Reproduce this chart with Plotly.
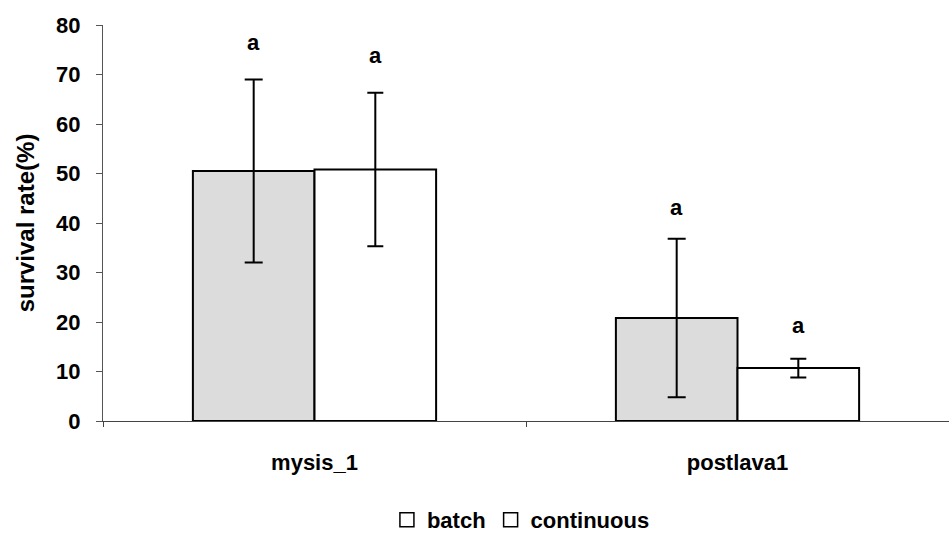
import plotly.graph_objects as go

categories = ["mysis_1", "postlava1"]
series_names = ["batch", "continuous"]
batch_vals = [50.5, 20.8]
batch_err = [18.5, 16.0]
cont_vals = [50.8, 10.7]
cont_err = [15.5, 1.9]
sig_letters_batch = ["a", "a"]
sig_letters_cont = ["a", "a"]
sig_y_batch = [76.4, 43.1]
sig_y_cont = [73.8, 19.2]
y_ticks = [0, 10, 20, 30, 40, 50, 60, 70, 80]

FONT = "Liberation Sans, Arial, sans-serif"
BARGAP = 0.425
half = (1 - BARGAP) / 4  # offset of each bar centre from category centre

fig = go.Figure()
fig.add_trace(go.Bar(
    x=categories, y=batch_vals, name=series_names[0], showlegend=False,
    marker=dict(color="#dcdcdc", line=dict(color="black", width=2)),
    error_y=dict(type="data", array=batch_err, visible=True, color="black", thickness=2, width=9),
))
fig.add_trace(go.Bar(
    x=categories, y=cont_vals, name=series_names[1], showlegend=False,
    marker=dict(color="white", line=dict(color="black", width=2)),
    error_y=dict(type="data", array=cont_err, visible=True, color="black", thickness=2, width=8),
))
# legend-only entries (white boxes as in the reference legend)
for nm in series_names:
    fig.add_trace(go.Scatter(x=[None], y=[None], name=nm, mode="markers",
                             marker=dict(symbol="square", size=14, color="white",
                                         line=dict(color="black", width=1.5))))

for i, c in enumerate(categories):
    fig.add_annotation(x=i - half, y=sig_y_batch[i], text=sig_letters_batch[i], showarrow=False,
                       font=dict(family=FONT, size=22, color="black", weight="bold"), xref="x", yref="y")
    fig.add_annotation(x=i + half, y=sig_y_cont[i], text=sig_letters_cont[i], showarrow=False,
                       font=dict(family=FONT, size=22, color="black", weight="bold"), xref="x", yref="y")

fig.update_layout(
    width=949, height=541,
    margin=dict(l=103, r=0, t=25, b=119),
    paper_bgcolor="white", plot_bgcolor="white",
    barmode="group", bargap=BARGAP, bargroupgap=0,
    font=dict(family=FONT, color="black"),
    legend=dict(orientation="h", x=0.494, xanchor="center", y=-0.25, yanchor="middle",
                font=dict(family=FONT, size=22, color="black", weight="bold"), itemwidth=30),
)
fig.update_xaxes(
    type="category", categoryorder="array", categoryarray=categories,
    range=[-0.5, 1.5], showline=True, linecolor="#444", linewidth=1,
    ticks="outside", tickson="boundaries", ticklen=5, tickcolor="#444",
    ticklabelstandoff=22,
    tickfont=dict(family=FONT, size=22, color="black", weight="bold"), showgrid=False,
)
fig.update_yaxes(
    range=[0, 80], tickvals=y_ticks, showline=True, linecolor="#555", linewidth=1,
    ticks="outside", ticklen=6, tickcolor="#555", showgrid=False, zeroline=False,
    tickfont=dict(family=FONT, size=22, color="black", weight="bold"), ticklabelstandoff=11,
    title=dict(text="<b>survival rate(%)</b>", font=dict(family=FONT, size=24, color="black"), standoff=14),
)

fig.write_html("out.html")
